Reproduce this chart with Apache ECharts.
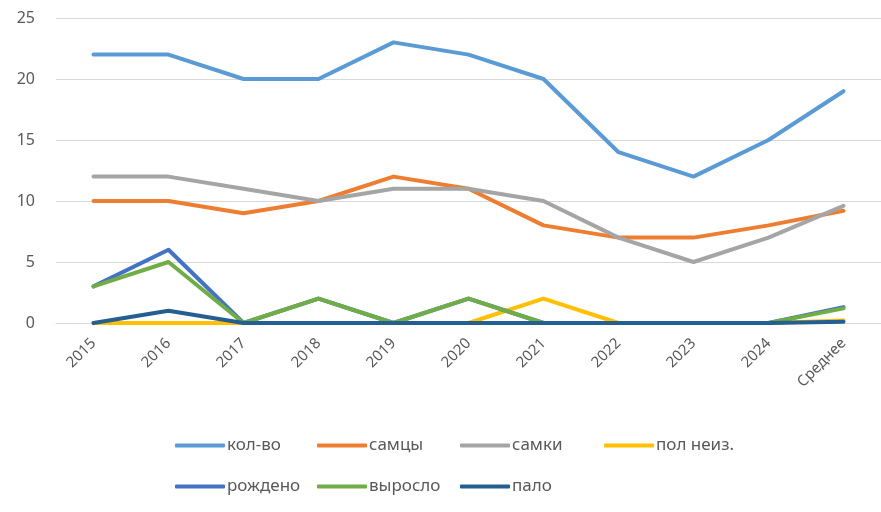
<!DOCTYPE html>
<html>
<head>
<meta charset="utf-8">
<script src="https://cdn.jsdelivr.net/npm/echarts@6/dist/echarts.min.js"></script>
<style>
  html, body { margin: 0; padding: 0; background: #ffffff; }
  #chart { width: 881px; height: 512px; }
</style>
</head>
<body>
<div id="chart"></div>
<script>
// Categories and per-year counts
const categories = ['2015', '2016', '2017', '2018', '2019', '2020', '2021', '2022', '2023', '2024', 'Среднее'];
const kolvo   = [22, 22, 20, 20, 23, 22, 20, 14, 12, 15, 19];
const samcy   = [10, 10, 9, 10, 12, 11, 8, 7, 7, 8, 9.2];
const samki   = [12, 12, 11, 10, 11, 11, 10, 7, 5, 7, 9.6];
const polNeiz = [0, 0, 0, 0, 0, 0, 2, 0, 0, 0, 0.2];
const rozhdeno = [3, 6, 0, 2, 0, 2, 0, 0, 0, 0, 1.3];
const vyroslo = [3, 5, 0, 2, 0, 2, 0, 0, 0, 0, 1.2];
const palo    = [0, 1, 0, 0, 0, 0, 0, 0, 0, 0, 0.1];
const yTicks  = [0, 5, 10, 15, 20, 25];

const seriesDefs = [
  { name: 'кол-во',   data: kolvo,    color: '#5B9BD5' },
  { name: 'самцы',    data: samcy,    color: '#ED7D31' },
  { name: 'самки',    data: samki,    color: '#A5A5A5' },
  { name: 'пол неиз.', data: polNeiz, color: '#FFC000' },
  { name: 'рождено',  data: rozhdeno, color: '#4472C4' },
  { name: 'выросло',  data: vyroslo,  color: '#70AD47' },
  { name: 'пало',     data: palo,     color: '#255E91' }
];

const FONT = 'Noto Sans';
const TEXT = '#595959';

// Legend laid out as a grid: 4 columns on the first row, 3 on the second
const legendPos = [
  [175, 437], [317, 437], [460, 437], [604, 437],
  [175, 478], [317, 478], [460, 478]
];
const legends = seriesDefs.map((s, i) => ({
  data: [s.name],
  left: legendPos[i][0],
  top: legendPos[i][1],
  padding: 0,
  icon: 'roundRect',
  itemWidth: 50,
  itemHeight: 4,
  itemGap: 2,
  textStyle: { fontFamily: FONT, fontSize: 17, color: TEXT, padding: [0, 0, 0, -3] }
}));

const chart = echarts.init(document.getElementById('chart'), null, { renderer: 'canvas' });
chart.setOption({
  animation: false,
  backgroundColor: '#ffffff',
  grid: { left: 56, right: -3, top: 18, height: 305, containLabel: false },
  legend: legends,
  xAxis: {
    type: 'category',
    data: categories,
    boundaryGap: true,
    axisLine: { show: true, lineStyle: { color: '#D9D9D9', width: 1 } },
    axisTick: { show: false },
    axisLabel: {
      rotate: 45,
      margin: 18,
      fontFamily: FONT,
      fontSize: 15,
      color: TEXT
    }
  },
  yAxis: {
    type: 'value',
    min: yTicks[0],
    max: yTicks[yTicks.length - 1],
    interval: 5,
    axisLine: { show: false },
    axisTick: { show: false },
    splitLine: { lineStyle: { color: '#D9D9D9', width: 1 } },
    axisLabel: { margin: 21, fontFamily: FONT, fontSize: 16, color: TEXT }
  },
  series: seriesDefs.map(s => ({
    name: s.name,
    type: 'line',
    data: s.data,
    symbol: 'none',
    color: s.color,
    lineStyle: { width: 4, color: s.color, cap: 'round', join: 'round' }
  }))
});
</script>
</body>
</html>
